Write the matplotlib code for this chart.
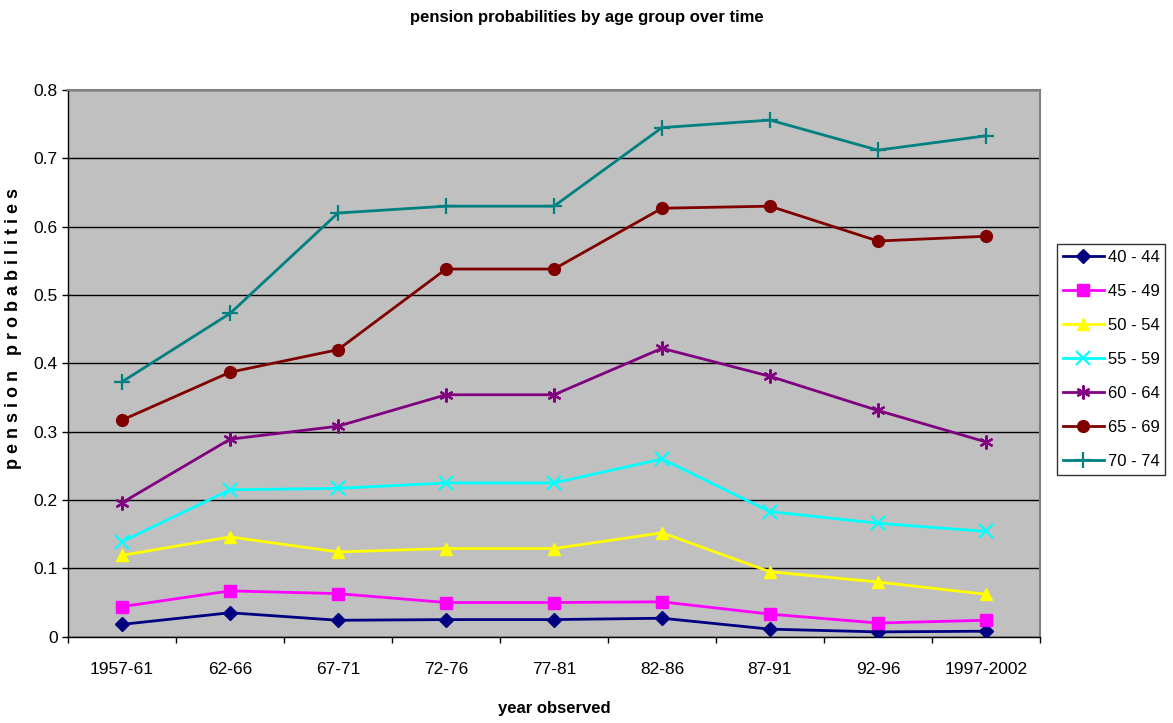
import matplotlib
matplotlib.use("Agg")
import matplotlib.pyplot as plt
from matplotlib import font_manager
from matplotlib.ticker import FixedLocator, NullFormatter, FixedFormatter

# the original uses a narrow Arial-like face
names = {f.name for f in font_manager.fontManager.ttflist}
if "Liberation Sans Narrow" in names:
    plt.rcParams["font.family"] = ["Liberation Sans Narrow", "DejaVu Sans"]
    fs = 14
else:
    plt.rcParams["font.family"] = ["Liberation Sans", "DejaVu Sans"]
    fs = 12

# Data
periods = ["1957-61", "62-66", "67-71", "72-76", "77-81", "82-86", "87-91", "92-96", "1997-2002"]
groups = ["40 - 44", "45 - 49", "50 - 54", "55 - 59", "60 - 64", "65 - 69", "70 - 74"]

p_40_44 = [0.018, 0.035, 0.024, 0.025, 0.025, 0.027, 0.011, 0.007, 0.008]
p_45_49 = [0.044, 0.067, 0.063, 0.050, 0.050, 0.051, 0.033, 0.020, 0.024]
p_50_54 = [0.119, 0.146, 0.124, 0.129, 0.129, 0.152, 0.095, 0.080, 0.062]
p_55_59 = [0.139, 0.215, 0.217, 0.225, 0.225, 0.260, 0.183, 0.166, 0.154]
p_60_64 = [0.196, 0.289, 0.308, 0.354, 0.354, 0.422, 0.381, 0.331, 0.285]
p_65_69 = [0.317, 0.387, 0.420, 0.538, 0.538, 0.627, 0.630, 0.579, 0.586]
p_70_74 = [0.373, 0.473, 0.620, 0.630, 0.630, 0.745, 0.756, 0.712, 0.733]

series = [p_40_44, p_45_49, p_50_54, p_55_59, p_60_64, p_65_69, p_70_74]
colors = ["#000080", "#FF00FF", "#FFFF00", "#00FFFF", "#800080", "#800000", "#008080"]
markers = ["D", "s", "^", "x", (6, 2, 0), "o", "+"]
msizes = [7, 8, 9, 9.5, 10, 8.5, 12]

fig = plt.figure(figsize=(11.73, 7.23), dpi=100)
ax = fig.add_axes([0.058, 0.1194, 0.8286, 0.7561])
ax.set_facecolor("#C0C0C0")

x = list(range(len(periods)))
for vals, lab, c, m, ms in zip(series, groups, colors, markers, msizes):
    ax.plot(x, vals, color=c, lw=2, marker=m, markersize=ms,
            markeredgewidth=1.6 if m in ("x", "+", (6, 2, 0)) else 1,
            markerfacecolor=c, markeredgecolor=c, label=lab, zorder=3)

ax.set_xlim(-0.5, len(periods) - 0.5)
ax.set_ylim(0, 0.8)
ax.set_yticks([0, 0.1, 0.2, 0.3, 0.4, 0.5, 0.6, 0.7, 0.8])
ax.set_yticklabels(["0", "0.1", "0.2", "0.3", "0.4", "0.5", "0.6", "0.7", "0.8"])
ax.yaxis.grid(True, color="black", lw=1)
ax.set_axisbelow(True)

ax.xaxis.set_major_locator(FixedLocator([i - 0.5 for i in range(len(periods) + 1)]))
ax.xaxis.set_major_formatter(NullFormatter())
ax.xaxis.set_minor_locator(FixedLocator(x))
ax.xaxis.set_minor_formatter(FixedFormatter(periods))
ax.tick_params(axis="x", which="major", length=4.5, width=1, direction="out")
ax.tick_params(axis="x", which="minor", length=0, pad=18, labelsize=fs + 0.5)
ax.tick_params(axis="y", length=4.5, width=1, direction="out", labelsize=fs + 0.5, pad=3)

for s in ("top", "right"):
    ax.spines[s].set_color("#808080")
    ax.spines[s].set_linewidth(1.5)
for s in ("left", "bottom"):
    ax.spines[s].set_color("black")
    ax.spines[s].set_linewidth(1)

ax.set_xlabel("year observed", fontsize=fs, fontweight="bold")
ax.xaxis.set_label_coords(0.5, -0.117)
ax.set_ylabel("p e n s i o n   p r o b a b i l i t i e s", fontsize=fs + 1, fontweight="bold")
ax.yaxis.set_label_coords(-0.047, 0.563)
fig.text(0.5, 0.976, "pension probabilities by age group over time",
         ha="center", va="center", fontsize=fs, fontweight="bold")

leg = fig.legend(*ax.get_legend_handles_labels(), loc="upper left",
                 bbox_to_anchor=(1056.7 / 1173, 1 - 244 / 723), frameon=True,
                 fancybox=False, edgecolor="black", fontsize=fs, handlelength=2.5,
                 borderpad=0.35, labelspacing=1.14, handletextpad=0.2, borderaxespad=0)
leg.get_frame().set_linewidth(1)

fig.savefig("out.png", dpi=100)
plt.close(fig)
